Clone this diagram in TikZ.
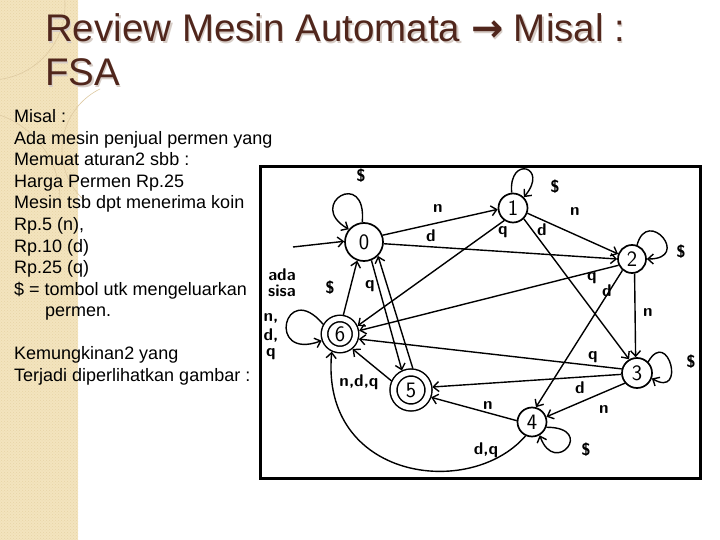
\documentclass[tikz,border=0pt]{standalone}
\usepackage{fontspec}
\setmainfont{Liberation Sans}
\newfontfamily\arrowfont{DejaVu Sans}
\usetikzlibrary{arrows.meta,patterns}
\definecolor{strip}{RGB}{243,228,190}
\definecolor{stripdot}{RGB}{232,212,166}
\definecolor{arcc}{RGB}{222,202,162}
\definecolor{titlec}{RGB}{80,38,28}
\definecolor{shadowc}{RGB}{214,204,198}
\tikzset{
  titletext/.style={anchor=base west, inner sep=0, font=\fontsize{38.5}{44}\selectfont},
  body/.style={anchor=base west, inner sep=0, font=\fontsize{18}{21.5}\selectfont},
  state/.style={draw, circle, line width=1.7pt, inner sep=0, font=\fontsize{22}{22}\selectfont\sffamily},
  accept/.style={state, double, line width=1.5pt, outer sep=4pt},
  arr/.style={line width=1.4pt, -{Straight Barb[length=5.5pt,width=10pt]}},
  lab/.style={inner sep=0, font=\fontsize{17}{17}\selectfont\sffamily\bfseries},
}
\begin{document}
\begin{tikzpicture}[x=1pt,y=1pt]
\useasboundingbox (0,0) rectangle (720,-540);
\fill[white] (0,0) rectangle (720,-540);
% decorative strip
\fill[strip] (0,0) rectangle (78,-540);
\fill[pattern=crosshatch dots, pattern color=stripdot] (0,0) rectangle (78,-540);
\begin{scope}
  \clip (0,0) rectangle (100,-200);
  \draw[arcc, line width=0.6pt] (130,-150) circle (68);
  \draw[arcc, line width=0.6pt] (-10,-5) circle (75);
  \draw[arcc, line width=0.6pt] (-30,-200) circle (90);
\end{scope}
% title
\node[titletext, text=shadowc] at (46.5,-43.5) {Review Mesin Automata {\arrowfont\bfseries →} Misal :};
\node[titletext, text=shadowc] at (46.5,-87.5) {FSA};
\node[titletext, text=titlec] (title1) at (45,-42) {Review Mesin Automata {\arrowfont\bfseries →} Misal :};
\node[titletext, text=titlec] (title2) at (45,-86) {FSA};
% body text
\node[body] (t1) at (14,-123) {Misal :};
\node[body] (t2) at (14,-144.5) {Ada mesin penjual permen yang};
\node[body] (t3) at (14,-166) {Memuat aturan2 sbb :};
\node[body] (t4) at (14,-187.5) {Harga Permen Rp.25};
\node[body] (t5) at (14,-209) {Mesin tsb dpt menerima koin};
\node[body] (t6) at (14,-230.5) {Rp.5 (n),};
\node[body] (t7) at (14,-252) {Rp.10 (d)};
\node[body] (t8) at (14,-273.5) {Rp.25 (q)};
\node[body] (t9) at (14,-295) {\$ = tombol utk mengeluarkan};
\node[body] (t10) at (45,-316.5) {permen.};
\node[body] (t11) at (14,-359.5) {Kemungkinan2 yang};
\node[body] (t12) at (14,-381) {Terjadi diperlihatkan gambar :};
% picture frame
\draw[line width=3pt] (260,-167) rectangle (700,-478);
% states
\node[state, minimum size=38pt] (s0) at (364,-242) {0};
\node[state, minimum size=29pt] (s1) at (513,-208) {1};
\node[state, minimum size=28pt] (s2) at (632,-259) {2};
\node[state, minimum size=30pt] (s3) at (637,-373) {3};
\node[state, minimum size=29pt] (s4) at (532,-422) {4};
\node[accept, minimum size=35pt, double distance=5.5pt] (s5) at (411,-390) {5};
\node[accept, minimum size=31pt, double distance=5pt] (s6) at (340,-334) {6};
\coordinate (start) at (293,-247);
% loops
\draw[arr] (s0.95) .. controls +(85:55) and +(150:50) .. (s0.140);
\draw[arr] (s1.95) .. controls +(95:38) and +(50:40) .. (s1.45);
\draw[arr] (s2.70) .. controls +(75:40) and +(0:45) .. (s2.0);
\draw[arr] (s3.45) .. controls +(60:40) and +(-30:40) .. (s3.-20);
\draw[arr] (s4.-20) .. controls +(0:50) and +(-70:45) .. (s4.-60);
\draw[arr] (s6.150) .. controls +(130:60) and +(200:60) .. (s6.200);
% transitions
\draw[arr] (start) -- (s0.178);
\draw[arr] (s0.20) -- (s1.185);
\draw[arr] (s0.-5) -- (s2.180);
\draw[arr] (s0.-68) -- (s5.115);
\draw[arr] (s5.85) -- (s0.-45);
\draw[arr] (s6.80) -- (s0.-110);
\draw[arr] (s1.-20) -- (s2.160);
\draw[arr] (s1.-45) -- (s3.120);
\draw[arr] (s1.-125) -- (s6.25);
\draw[arr] (s2.-80) -- (s3.95);
\draw[arr] (s2.-130) -- (s4.75);
\draw[arr] (s2.-155) -- (s6.10);
\draw[arr] (s3.165) -- (s6.-15);
\draw[arr] (s3.185) -- (s5.8);
\draw[arr] (s3.-140) -- (s4.20);
\draw[arr] (s4.175) -- (s5.-20);
\draw[arr] (s5.155) -- (s6.-50);
\draw[arr] (s4.-115) .. controls (470,-500) and (320,-480) .. (s6.-115);
% labels
\node[lab] (l0) at (361,-176) {\$};
\node[lab] (l1) at (438,-209) {n};
\node[lab] (l2) at (431,-236) {d};
\node[lab] (l3) at (370,-286) {q};
\node[lab] (l4) at (330,-288) {\$};
\node[lab] (l5a) at (282,-275) {ada};
\node[lab] (l5b) at (282,-291) {sisa};
\node[lab] (l6a) at (271,-318) {n,};
\node[lab] (l6b) at (271,-336) {d,};
\node[lab] (l6c) at (271,-354) {q};
\node[lab] (l7) at (555,-187) {\$};
\node[lab] (l8) at (575,-212) {n};
\node[lab] (l9) at (542,-230) {d};
\node[lab] (l10) at (503,-232) {q};
\node[lab] (l11) at (681,-252) {\$};
\node[lab] (l12) at (648,-313) {n};
\node[lab] (l13) at (607,-291) {d};
\node[lab] (l14) at (592,-278) {q};
\node[lab] (l15) at (691,-362) {\$};
\node[lab] (l16) at (593,-357) {q};
\node[lab] (l17) at (580,-388) {d};
\node[lab] (l18) at (604,-410) {n};
\node[lab] (l19) at (488,-406) {n};
\node[lab] (l20) at (586,-450) {\$};
\node[lab] (l21) at (486,-450) {d,q};
\node[lab] (l22) at (359,-382) {n,d,q};
\end{tikzpicture}
\end{document}
